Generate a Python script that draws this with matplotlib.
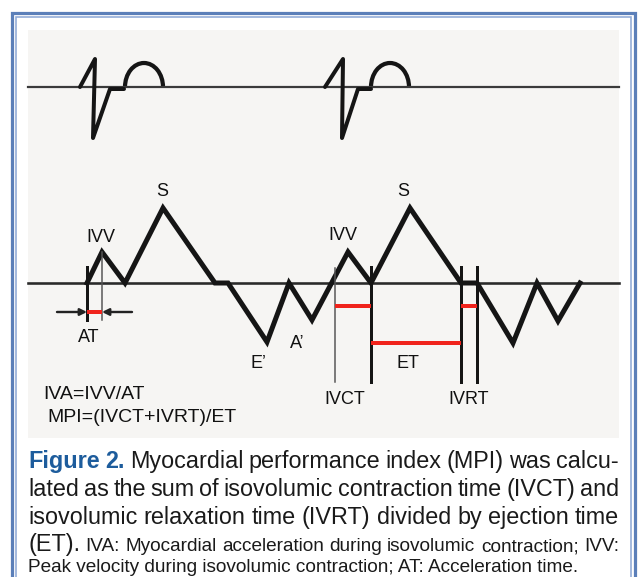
import matplotlib.pyplot as plt
from matplotlib.patches import Arc, Rectangle

plt.rcParams['font.family'] = ['Liberation Sans', 'DejaVu Sans']

# ECG strip: time positions and amplitude above the ECG baseline
ecg_beat1_t = [80, 95, 93, 110, 124]
ecg_beat1_v = [0, 28, -51, -2, -2]
ecg_beat2_t = [325, 343, 342, 358, 371]
ecg_beat2_v = [0, 28, -51, -2, -2]
t_wave_centers = [144, 390]

# tissue Doppler velocity trace (above / below the Doppler baseline)
tdi_t = [87, 102, 125, 163, 215, 228, 267, 289, 312, 348, 371, 410, 461, 477, 513, 537, 558, 580]
tdi_v = [0, 31, 0, 75, 0, 0, -59, 0, -37, 31, 0, 75, 0, 0, -60, 0, -38, 0]

# interval markers
at_start, at_end = 87, 102
ivct_start, ivct_end = 335, 371
et_start, et_end = 371, 461
ivrt_start, ivrt_end = 461, 477

wave_labels = ['S', 'IVV', 'AT', 'E\u2019', 'A\u2019', 'S', 'IVV', 'ET', 'IVCT', 'IVRT']
wave_label_x = [162, 101, 89, 258, 297, 403, 343, 408, 345, 469]
wave_label_y = [190, 235, 335, 362, 342, 190, 234, 362, 397, 397]

formulas = ['IVA=IVV/AT', 'MPI=(IVCT+IVRT)/ET']

caption_lines = [
    'Figure 2. Myocardial performance index (MPI) was calcu-',
    'lated as the sum of isovolumic contraction time (IVCT) and',
    'isovolumic relaxation time (IVRT) divided by ejection time',
    '(ET).',
]
caption_small = ['IVA: Myocardial acceleration during isovolumic contraction; IVV:',
                 'Peak velocity during isovolumic contraction; AT: Acceleration time.']

ECG_Y = 87
TDI_Y = 283
PX = 0.72  # px -> pt at 100 dpi

fig = plt.figure(figsize=(6.38, 5.77), dpi=100)
ax = fig.add_axes([0, 0, 1, 1])
ax.set_xlim(0, 638)
ax.set_ylim(577, 0)
ax.axis('off')

# frame
blue_dark = '#5b7fb9'
blue_light = '#8fa9d6'
ax.plot([11.5, 11.5, 635, 635], [577, 12.5, 12.5, 577], color=blue_dark, lw=3.2 * PX,
        solid_joinstyle='miter')
ax.plot([15.5, 15.5, 631, 631], [577, 16.5, 16.5, 577], color=blue_light, lw=1.6 * PX,
        solid_joinstyle='miter')
ax.add_patch(Rectangle((28, 30), 591, 408, facecolor='#f6f5f3', edgecolor='none'))

# ECG
ax.plot([28, 619], [ECG_Y, ECG_Y], color='#3a3a3a', lw=2.2 * PX)
for bt, bv in [(ecg_beat1_t, ecg_beat1_v), (ecg_beat2_t, ecg_beat2_v)]:
    ax.plot(bt, [ECG_Y - v for v in bv], color='#151515', lw=4 * PX,
            solid_joinstyle='round', solid_capstyle='round')
for cx in t_wave_centers:
    ax.add_patch(Arc((cx, ECG_Y), 38, 48, theta1=180, theta2=360,
                     color='#151515', lw=4.2 * PX))

# tissue Doppler
ax.plot([28, 619], [TDI_Y, TDI_Y], color='#2a2a2a', lw=2.6 * PX)
ax.plot(tdi_t, [TDI_Y - v for v in tdi_v], color='#151515', lw=5 * PX,
        solid_joinstyle='miter')

# verticals
thick = dict(color='#151515', lw=3 * PX)
thin = dict(color='#555555', lw=1.5 * PX)
ax.plot([at_start, at_start], [267, 320], **thick)
ax.plot([at_end, at_end], [252, 320], **thin)
ax.plot([ivct_start, ivct_start], [268, 382], **thin)
for x in [ivct_end, et_end, ivrt_end]:
    ax.plot([x, x], [267, 382], **thick)

# red intervals
red = dict(color='#f0231c', lw=4 * PX, solid_capstyle='butt')
ax.plot([at_start, at_end], [312, 312], **red)
ax.plot([ivct_start, ivct_end], [306, 306], **red)
ax.plot([ivrt_start, ivrt_end], [306, 306], **red)
ax.plot([et_start, et_end], [343, 343], **red)

# AT arrows
arrow = dict(arrowstyle='-|>', color='#222222', lw=2.4 * PX, mutation_scale=10,
             shrinkA=0, shrinkB=0)
ax.annotate('', xy=(at_start, 312), xytext=(57, 312), arrowprops=arrow)
ax.annotate('', xy=(at_end, 312), xytext=(132, 312), arrowprops=arrow)

# labels
for s, x, y in zip(wave_labels, wave_label_x, wave_label_y):
    ax.text(x, y + 6.5, s, ha='center', va='baseline', fontsize=13, color='#111111')
ax.text(43, 392 + 7, formulas[0], ha='left', va='baseline', fontsize=14, color='#111111')
ax.text(47, 415 + 7, formulas[1], ha='left', va='baseline', fontsize=14, color='#111111')

# caption, justified word by word
renderer = fig.canvas.get_renderer()
big = dict(fontsize=16.8, color='#1a1a1a')
bold_blue = dict(fontsize=16.8, color='#1d5c9c', fontweight='bold')
small = dict(fontsize=13.7, color='#1a1a1a')
X0, X1 = 28, 619


def justify(words, y, x0=X0, x1=X1):
    texts, widths = [], []
    for w, kw in words:
        t = ax.text(0, y, w, ha='left', va='baseline', **kw)
        texts.append(t)
        widths.append(t.get_window_extent(renderer).width)
    gap = (x1 - x0 - sum(widths)) / (len(texts) - 1)
    x = x0
    for t, w in zip(texts, widths):
        t.set_x(x)
        x += w + gap


line1 = caption_lines[0].split()
words1 = [(w, bold_blue) for w in line1[:2]] + [(w, big) for w in line1[2:]]
justify(words1, 468)
justify([(w, big) for w in caption_lines[1].split()], 496)
justify([(w, big) for w in caption_lines[2].split()], 524)
justify([(caption_lines[3], big)] + [(w, small) for w in caption_small[0].split()], 551)
ax.text(X0, 572, caption_small[1], ha='left', va='baseline', **small)

fig.savefig('out.png', dpi=100)
